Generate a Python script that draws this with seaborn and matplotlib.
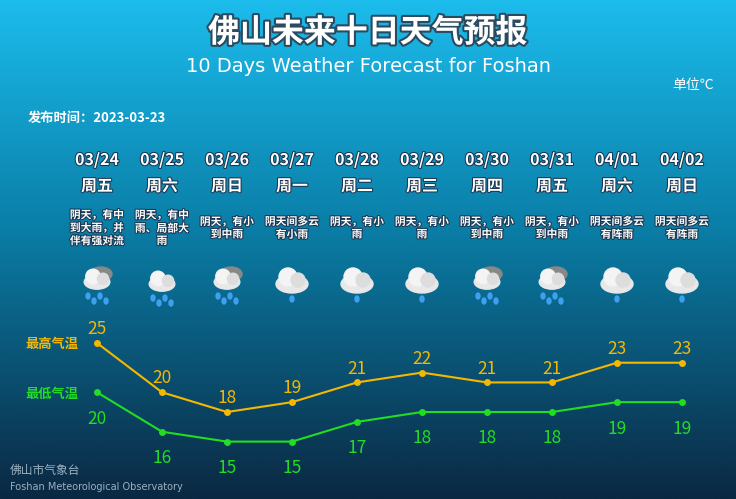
import numpy as np
import pandas as pd
import matplotlib.pyplot as plt
import matplotlib.patheffects as pe
import seaborn as sns
from matplotlib.patches import Circle, Ellipse

sns.set_style('white')
plt.rcParams['font.family'] = ['Noto Sans CJK SC', 'DejaVu Sans']

dates = ['03/24', '03/25', '03/26', '03/27', '03/28', '03/29', '03/30', '03/31', '04/01', '04/02']
weekdays = ['周五', '周六', '周日', '周一', '周二', '周三', '周四', '周五', '周六', '周日']
desc = ['阴天，有中\n到大雨，并\n伴有强对流', '阴天，有中\n雨、局部大\n雨', '阴天，有小\n到中雨',
        '阴天间多云\n有小雨', '阴天，有小\n雨', '阴天，有小\n雨', '阴天，有小\n到中雨',
        '阴天，有小\n到中雨', '阴天间多云\n有阵雨', '阴天间多云\n有阵雨']
icons = ['storm', 'rain', 'storm', 'rain', 'rain', 'rain', 'storm', 'storm', 'rain', 'rain']
high = [25, 20, 18, 19, 21, 22, 21, 21, 23, 23]
low = [20, 16, 15, 15, 17, 18, 18, 18, 19, 19]

W, H = 736, 499
fig = plt.figure(figsize=(W / 100, H / 100), dpi=100)
shadow = [pe.withStroke(linewidth=1.5, foreground='#1a3550')]

# background gradient
bg = fig.add_axes([0, 0, 1, 1])
top = np.array([0x1c, 0xbc, 0xec]) / 255
mid = np.array([0x0a, 0x7f, 0xa8]) / 255
bot = np.array([0x0a, 0x28, 0x42]) / 255
t = np.linspace(0, 1, 300)[:, None]
grad = np.where(t < 0.45, top + (mid - top) * (t / 0.45), mid + (bot - mid) * ((t - 0.45) / 0.55))
bg.imshow(grad[:, None, :], aspect='auto', extent=[0, W, H, 0])
bg.set_xlim(0, W)
bg.set_ylim(H, 0)
bg.axis('off')

bg.text(W / 2, 33, '佛山未来十日天气预报', color='white', fontsize=23, fontweight='bold',
        ha='center', va='center', path_effects=[pe.withStroke(linewidth=3, foreground='#2a4a60')])
bg.text(W / 2, 66, '10 Days Weather Forecast for Foshan', color='white', fontsize=14,
        ha='center', va='center', family=['DejaVu Sans'])
bg.text(714, 85, '单位℃', color='white', fontsize=10, ha='right', va='center',
        family=['Noto Sans CJK SC', 'DejaVu Sans'])
bg.text(28, 118, '发布时间：2023-03-23', color='white', fontsize=9.5, ha='left', va='center',
        fontweight='bold')

xs = [97 + 65 * i for i in range(10)]
for i, x in enumerate(xs):
    bg.text(x, 160, dates[i], color='white', fontsize=11.5, ha='center', va='center',
            fontweight='bold', path_effects=shadow)
    bg.text(x, 186, weekdays[i], color='white', fontsize=11.5, ha='center', va='center',
            fontweight='bold', path_effects=shadow)
    bg.text(x, 228, desc[i], color='white', fontsize=7.8, ha='center', va='center',
            linespacing=1.3, fontweight='bold', path_effects=shadow)
    # weather icon
    cy = 282 if icons[i] == 'storm' else 284
    small = icons[i] == 'storm' or i < 2
    s = 0.8 if small else 1.0
    if icons[i] == 'storm':
        bg.add_patch(Ellipse((x + 4, cy - 8), 22, 14, color='#888888', zorder=3))
    bg.add_patch(Ellipse((x, cy), 32 * s, 18 * s, color='#e8e8e8', zorder=4))
    bg.add_patch(Circle((x - 4, cy - 7 * s), 9 * s, color='#f4f4f4', zorder=4))
    bg.add_patch(Circle((x + 6, cy - 4 * s), 7 * s, color='#dddddd', zorder=4))
    ndrops = 4 if small else 1
    for k in range(ndrops):
        dx = (k - (ndrops - 1) / 2) * 6 if ndrops > 1 else 0
        dy = 14 + (k % 2) * 5 if ndrops > 1 else 15
        bg.add_patch(Ellipse((x + dx, cy + dy), 4, 6, color='#3fa0f0', zorder=5))

bg.text(52, 344, '最高气温', color='#f5b800', fontsize=9.5, ha='center', va='center', fontweight='bold')
bg.text(52, 394, '最低气温', color='#22dd22', fontsize=9.5, ha='center', va='center', fontweight='bold')
bg.text(10, 470, '佛山市气象台', color='#9ab0c0', fontsize=8.5, ha='left', va='center')
bg.text(10, 487, 'Foshan Meteorological Observatory', color='#9ab0c0', fontsize=7,
        ha='left', va='center', family=['DejaVu Sans'])

# temperature lines
y0, y1 = 300, 470
ax = fig.add_axes([64.5 / W, 1 - y1 / H, 650 / W, (y1 - y0) / H])
ax.patch.set_alpha(0)
df = pd.DataFrame({'day': range(10), 'high': high, 'low': low})
sns.lineplot(data=df, x='day', y='high', ax=ax, color='#f5b800', lw=1.5, marker='o', ms=5, mec='none')
sns.lineplot(data=df, x='day', y='low', ax=ax, color='#22dd22', lw=1.5, marker='o', ms=5, mec='none')
for i in range(10):
    ax.annotate(str(high[i]), (i, high[i]), xytext=(0, 10), textcoords='offset points',
                color='#f5b800', fontsize=12.5, ha='center', va='center')
    ax.annotate(str(low[i]), (i, low[i]), xytext=(0, -19), textcoords='offset points',
                color='#22dd22', fontsize=12.5, ha='center', va='center')
ax.set_xlim(-0.5, 9.5)
ax.set_ylim(25 - (y1 - 343) / 9.86, 25 + (343 - y0) / 9.86)
ax.axis('off')

fig.savefig('out.png', dpi=100)
